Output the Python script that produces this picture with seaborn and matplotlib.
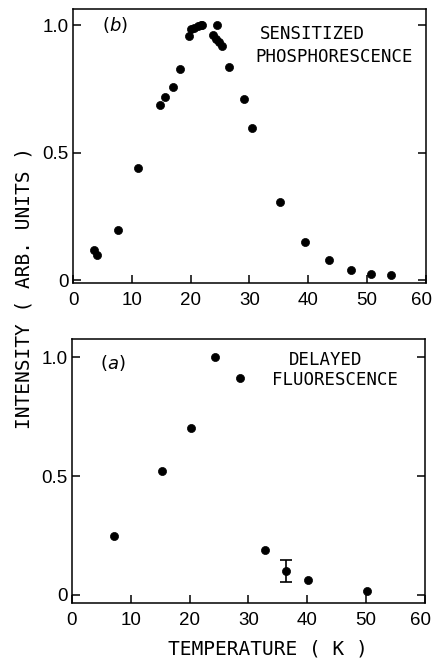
import matplotlib
matplotlib.use("Agg")
import matplotlib.pyplot as plt
import matplotlib.transforms as mtransforms
import seaborn as sns
import pandas as pd
import numpy as np

# (b) sensitized phosphorescence
temp_b = [3.6, 4.0, 7.6, 11.0, 14.7, 15.6, 17.0, 18.1, 19.8, 20.1, 20.6, 21.2,
          21.8, 22.0, 23.8, 24.3, 24.5, 24.9, 25.3, 26.6, 29.1, 30.5, 35.2,
          39.5, 43.5, 47.2, 50.7, 54.1]
int_b = [0.116, 0.099, 0.197, 0.441, 0.687, 0.717, 0.758, 0.829, 0.958, 0.987,
         0.991, 0.996, 1.0, 1.0, 0.961, 0.948, 1.0, 0.935, 0.918, 0.837, 0.709,
         0.595, 0.305, 0.151, 0.080, 0.038, 0.025, 0.020]

# (a) delayed fluorescence
temp_a = [7.2, 15.3, 20.2, 24.3, 28.6, 32.8, 36.4, 40.1, 50.2]
int_a = [0.247, 0.522, 0.704, 1.0, 0.914, 0.191, 0.101, 0.062, 0.017]
err_a = [0, 0, 0, 0, 0, 0, 0.046, 0, 0]

x_ticks = [0, 10, 20, 30, 40, 50, 60]
y_ticks = [0, 0.5, 1.0]
y_ticklabels = ["0", "0.5", "1.0"]

sns.set_theme(style="white")
plt.rcParams['font.family'] = ['DejaVu Sans Mono', 'DejaVu Sans']
plt.rcParams['text.color'] = 'black'

df_b = pd.DataFrame({"T": temp_b, "I": int_b})
df_a = pd.DataFrame({"T": temp_a, "I": int_a, "err": err_a})

fig = plt.figure(figsize=(4.35, 6.63), dpi=100)
ax_b = fig.add_axes([0.168, 0.573, 0.811, 0.413])
ax_a = fig.add_axes([0.1655, 0.0905, 0.811, 0.398])


def style_axis(ax, ylim):
    ax.set_xlim(0, 60)
    ax.set_ylim(*ylim)
    ax.set_xticks(x_ticks)
    ax.set_yticks(y_ticks)
    ax.set_yticklabels(y_ticklabels)
    ax.tick_params(axis="both", direction="in", length=5.5, width=1.1,
                   colors="black")
    ax.tick_params(axis="y", right=True, left=True, pad=3)
    ax.tick_params(axis="x", top=False, bottom=True, pad=6.5)
    for lab in ax.get_xticklabels() + ax.get_yticklabels():
        lab.set_family(['Liberation Sans', 'DejaVu Sans'])
        lab.set_fontsize(13.5)
    # pull the last x label in a little so it stays on the page
    last = ax.get_xticklabels()[-1]
    last.set_transform(last.get_transform() +
                       mtransforms.ScaledTranslation(-3 / 72, 0,
                                                     fig.dpi_scale_trans))
    for sp in ax.spines.values():
        sp.set_visible(True)
        sp.set_color("black")
        sp.set_linewidth(1.1)
    ax.set_xlabel("")
    ax.set_ylabel("")


sns.scatterplot(data=df_b, x="T", y="I", ax=ax_b, color="black", s=34,
                edgecolor="black", linewidth=0.5, legend=False)
style_axis(ax_b, (-0.012, 1.063))
ax_b.text(0.119, 0.942, "$(b)$", transform=ax_b.transAxes, fontsize=13,
          ha="center", va="center", family="DejaVu Serif")
ax_b.text(0.678, 0.909, "SENSITIZED", transform=ax_b.transAxes, fontsize=12.5,
          ha="center", va="center")
ax_b.text(0.741, 0.826, "PHOSPHORESCENCE", transform=ax_b.transAxes,
          fontsize=12.5, ha="center", va="center")

sns.scatterplot(data=df_a, x="T", y="I", ax=ax_a, color="black", s=34,
                edgecolor="black", linewidth=0.5, legend=False)
with_err = df_a[df_a["err"] > 0]
ax_a.errorbar(with_err["T"], with_err["I"], yerr=with_err["err"], fmt="none",
              ecolor="black", elinewidth=1.2, capsize=4, capthick=1.2)
style_axis(ax_a, (-0.034, 1.077))
ax_a.text(0.116, 0.909, "$(a)$", transform=ax_a.transAxes, fontsize=13,
          ha="center", va="center", family="DejaVu Serif")
ax_a.text(0.719, 0.920, "DELAYED", transform=ax_a.transAxes, fontsize=12.5,
          ha="center", va="center")
ax_a.text(0.745, 0.845, "FLUORESCENCE", transform=ax_a.transAxes,
          fontsize=12.5, ha="center", va="center")

fig.text(0.616, 0.021, "TEMPERATURE ( K )", fontsize=14, ha="center",
         va="center")
fig.text(0.055, 0.566, "INTENSITY ( ARB. UNITS )", fontsize=14, ha="center",
         va="center", rotation=90)

fig.savefig("out.png", dpi=100)
